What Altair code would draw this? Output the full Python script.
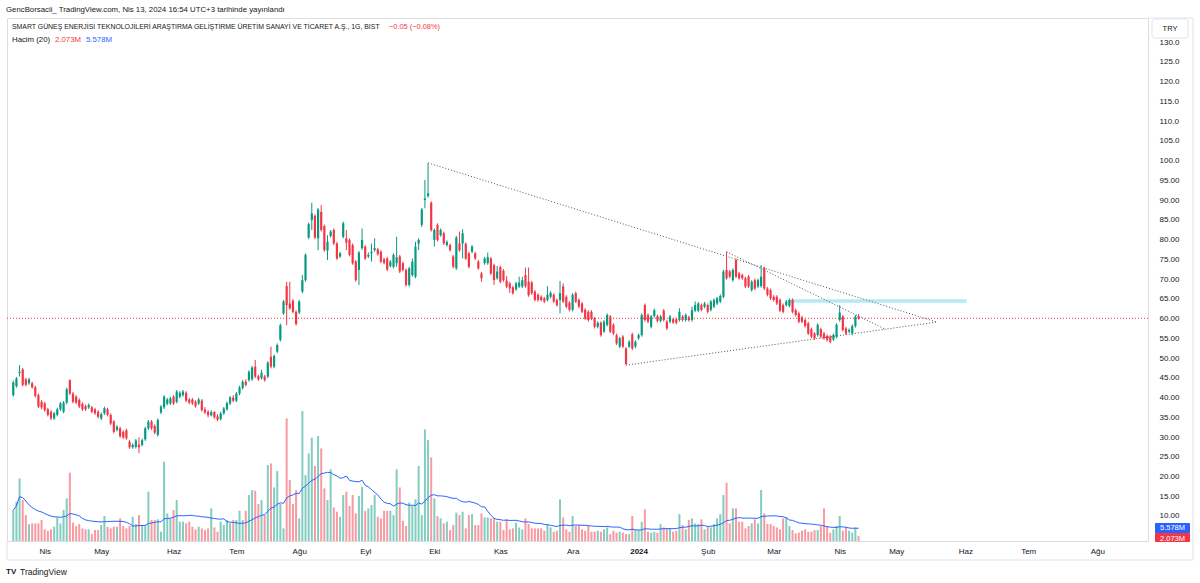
import altair as alt
import pandas as pd

# ---------------- data (daily candles, index = trading bar) ----------------
O = [40.6,42.9,46.2,47.1,44.6,43.6,43.6,42.6,40.6,38.9,38.5,37.0,36.4,34.7,35.6,37.0,36.4,38.7,44.4,41.0,
     40.2,39.4,38.4,37.8,37.5,37.5,37.0,36.4,34.7,36.0,37.0,35.6,33.9,31.8,32.2,31.3,31.7,28.8,27.4,27.5,
     28.1,28.0,29.4,32.2,33.9,32.8,30.5,36.2,37.5,38.4,38.5,40.2,38.9,40.2,40.6,41.2,39.5,39.5,38.9,38.5,
     39.2,37.0,36.4,35.5,36.3,35.2,34.5,36.0,37.0,38.5,40.0,39.2,41.0,42.4,44.0,44.4,44.6,47.8,45.4,44.9,
     45.3,45.3,50.3,47.8,51.6,54.6,61.3,68.2,63.8,64.5,61.7,61.5,66.8,69.7,80.5,84.9,86.0,80.3,87.0,83.4,
     77.2,80.9,82.4,79.0,75.7,80.7,80.3,79.9,78.6,74.4,72.3,77.8,78.2,75.7,76.5,77.3,77.5,76.9,75.0,75.2,
     73.3,73.1,74.0,75.7,74.0,72.3,68.5,71.0,70.6,79.0,83.7,90.0,91.0,89.3,79.9,83.7,81.1,81.6,78.6,78.6,
     75.7,72.7,79.0,79.0,78.9,76.5,76.9,76.5,74.4,71.4,74.0,74.0,75.2,73.5,70.2,73.0,72.1,69.6,68.9,67.9,
     67.4,68.1,68.1,71.0,69.3,69.1,66.8,66.0,65.5,65.1,64.7,65.5,66.0,64.7,64.7,68.1,65.5,64.0,62.2,66.4,
     64.7,63.8,62.2,61.7,61.7,60.0,57.9,58.9,56.7,58.4,60.5,58.4,55.8,52.9,55.4,52.4,52.9,56.0,52.9,55.0,
     55.8,63.4,60.9,57.9,60.6,60.6,59.4,62.0,59.2,59.2,59.8,59.8,59.6,60.5,59.6,60.3,59.6,62.0,62.0,63.4,
     63.0,63.4,62.2,63.0,63.8,64.3,65.5,72.3,71.9,69.7,74.8,71.4,71.0,70.2,70.6,67.2,69.7,68.1,68.2,72.7,
     67.6,67.2,65.5,65.5,64.7,63.4,63.4,63.2,64.7,62.1,61.3,60.3,59.6,58.8,57.3,56.2,55.8,57.3,56.2,55.6,
     55.4,54.7,55.4,59.6,60.5,57.5,56.7,56.2,58.1,60.5]
H = [44.3,45.2,48.2,47.5,45.0,45.0,44.0,43.0,41.0,39.4,38.9,37.4,36.8,36.4,37.4,38.9,39.1,42.5,44.6,41.4,
     40.6,39.8,38.8,38.2,38.5,37.9,37.4,36.8,36.2,37.7,37.4,36.0,34.3,33.0,32.6,31.7,32.1,29.2,28.4,29.5,
     29.9,29.6,32.6,34.3,34.3,33.2,34.7,38.1,40.6,39.9,40.2,40.6,41.9,41.6,41.9,41.6,39.9,39.9,39.3,39.9,
     39.6,37.6,36.8,36.8,36.6,35.8,36.4,37.6,39.0,40.4,40.6,41.4,43.0,44.4,44.6,46.9,48.0,49.5,45.8,47.0,
     45.7,49.2,52.9,50.9,53.7,58.7,64.7,69.3,69.3,64.9,62.1,64.7,71.0,76.5,84.3,89.3,86.4,88.0,88.7,83.8,
     81.1,82.4,82.8,79.4,76.9,84.5,82.4,80.3,79.0,74.8,77.1,82.8,78.6,76.7,79.0,80.3,77.9,77.3,75.4,75.6,
     74.8,76.5,80.7,76.1,74.4,72.7,73.1,75.2,79.4,80.3,88.0,95.1,99.4,89.7,82.8,84.1,82.8,82.0,79.8,79.0,
     76.1,80.9,82.0,82.6,79.3,76.9,78.6,76.9,74.8,71.8,75.6,76.7,75.6,73.9,73.3,73.4,72.5,70.8,69.3,68.3,
     69.3,70.6,70.6,72.9,72.9,69.5,67.2,66.4,65.9,65.5,68.2,66.9,66.4,65.1,69.5,68.9,65.9,64.4,66.4,66.8,
     65.1,64.2,62.6,62.1,62.1,60.4,59.3,59.3,59.6,61.3,60.9,58.8,56.2,55.4,55.8,52.8,54.5,56.4,54.5,56.2,
     61.3,63.8,61.3,60.9,62.5,61.0,60.9,62.4,59.6,60.9,60.2,60.2,62.6,60.9,61.3,60.7,63.0,64.3,64.2,63.8,
     64.2,63.8,64.7,65.1,65.5,66.1,72.3,76.9,72.3,72.7,75.2,71.8,71.4,70.6,71.0,69.7,70.1,70.1,73.5,73.1,
     68.0,67.6,65.9,65.9,65.1,63.8,64.7,65.1,65.1,62.5,61.7,60.7,60.0,59.2,57.7,56.6,58.8,57.7,56.6,56.0,
     55.8,56.2,58.8,63.4,60.9,57.9,57.5,58.5,60.9,61.1]
L = [40.2,42.5,45.3,42.8,42.8,43.2,42.2,40.0,37.3,37.0,36.4,35.2,34.3,34.3,35.2,36.6,36.0,38.3,40.6,38.5,
     38.3,37.3,36.6,36.6,37.1,36.0,35.6,34.7,34.3,35.6,35.2,33.0,30.9,31.4,29.8,29.5,29.3,27.0,27.0,27.1,
     25.9,27.6,29.0,31.8,31.8,30.7,30.1,35.8,37.1,38.0,38.1,38.1,38.5,39.8,40.2,38.8,38.3,38.1,37.4,38.1,
     36.4,35.8,35.0,35.2,34.6,34.0,34.2,35.6,36.6,38.1,38.8,38.8,40.6,42.0,42.8,44.0,44.2,44.9,44.2,44.5,
     44.0,44.9,47.4,47.4,51.2,54.2,60.9,58.3,62.2,61.3,58.2,61.1,66.4,69.3,80.1,82.4,80.1,77.3,82.0,76.9,
     74.8,80.5,78.6,74.8,75.3,80.3,77.3,75.7,73.6,69.3,68.5,77.4,74.8,75.3,74.4,76.9,75.9,74.0,73.7,72.0,
     72.9,72.7,73.1,71.5,71.9,68.1,68.1,70.6,70.2,77.3,83.2,87.9,90.6,82.0,78.2,79.5,80.7,78.6,78.2,76.9,
     72.7,72.3,76.9,75.2,74.8,72.7,76.5,74.8,72.3,69.3,73.6,73.6,71.0,68.5,69.8,68.9,69.3,67.7,66.5,66.0,
     67.0,67.7,67.7,67.8,65.5,66.0,64.3,64.3,64.3,63.9,64.3,65.1,63.9,63.0,61.3,63.9,62.6,61.8,61.8,63.9,
     62.6,61.3,59.6,59.2,59.6,57.5,57.5,55.4,56.3,58.0,56.3,55.8,53.3,52.5,52.5,48.2,52.5,52.0,52.5,54.6,
     55.4,59.2,58.8,57.5,60.2,59.0,59.0,59.2,57.1,58.8,58.6,58.5,59.2,59.2,59.2,59.2,59.2,61.6,61.6,61.8,
     62.6,61.3,61.8,62.6,63.4,63.9,65.1,69.8,70.2,69.3,70.2,69.8,69.8,67.7,67.7,66.8,67.2,67.7,67.8,67.2,
     65.6,64.7,64.3,63.4,61.6,61.3,63.0,62.8,61.3,60.5,58.8,58.8,57.7,55.8,55.0,54.6,55.4,55.0,54.6,54.1,
     53.7,54.3,55.0,59.2,56.7,55.8,56.3,55.8,57.7,59.7]
C = [43.8,44.8,46.5,43.2,43.2,44.6,42.6,40.4,37.7,37.5,36.8,35.6,34.7,36.0,37.0,38.5,38.7,42.1,41.0,38.9,
     38.7,37.7,37.0,37.0,38.1,36.4,36.0,35.1,35.8,37.3,35.6,33.4,31.3,32.6,30.2,29.9,29.7,27.4,28.0,29.1,
     27.4,29.2,32.2,33.9,32.2,31.1,34.3,37.7,40.2,39.5,39.8,38.5,41.5,41.2,41.5,39.2,38.7,38.5,37.8,39.5,
     36.8,36.2,35.5,36.3,35.0,34.4,36.0,37.2,38.6,40.0,39.2,41.0,42.5,44.0,43.2,46.5,47.6,45.3,44.6,46.3,
     44.4,48.8,47.8,50.5,53.3,58.3,64.3,63.4,62.6,61.7,58.6,64.3,69.7,76.1,83.9,86.6,80.5,87.6,82.4,77.3,
     79.4,82.0,79.0,75.2,76.5,84.1,79.2,76.1,74.0,69.7,76.7,79.9,75.2,76.1,76.9,77.8,76.3,74.4,74.1,72.4,
     74.4,76.1,75.5,71.9,72.3,68.5,72.7,74.4,78.2,79.9,87.6,90.4,91.7,82.4,82.4,79.9,82.4,79.0,79.4,77.3,
     73.1,80.5,77.3,81.6,75.2,73.1,78.2,75.2,72.7,70.2,75.2,75.5,71.4,69.7,71.9,69.3,69.7,68.1,67.6,66.4,
     68.9,69.1,69.7,68.2,65.9,66.4,64.7,64.7,64.7,64.3,66.0,66.5,64.3,63.4,66.4,64.3,63.0,62.2,66.0,64.3,
     63.0,61.7,60.0,59.6,60.0,57.9,58.9,55.8,59.2,60.9,56.7,56.2,53.7,55.0,52.9,48.5,54.1,52.4,54.1,55.8,
     60.9,59.6,59.2,60.5,62.1,59.4,60.5,59.6,57.5,60.5,59.0,58.9,61.7,59.6,60.9,59.6,62.1,63.4,63.8,62.2,
     63.8,61.7,64.3,64.7,65.1,65.7,71.9,70.2,70.6,72.3,70.6,70.2,70.2,68.1,68.1,69.3,67.6,69.7,70.6,67.6,
     66.0,65.1,64.7,63.8,62.0,61.7,64.3,64.7,61.7,60.9,59.2,59.2,58.1,56.2,55.4,55.0,58.4,55.4,55.0,54.6,
     54.1,55.8,58.4,61.5,57.1,56.2,57.1,58.1,60.5,60.05]
V = [13.0,16.5,26.3,17.2,10.9,7.1,7.4,7.4,7.4,8.8,4.9,4.3,4.9,6.0,9.9,7.4,13.0,17.9,28.7,7.7,
     6.3,7.1,5.3,4.9,4.9,2.9,4.6,4.6,6.7,10.5,6.0,5.3,6.0,6.0,9.5,6.3,5.3,6.3,10.2,7.1,
     10.9,6.7,6.7,20.7,8.8,8.8,9.1,3.9,33.3,11.6,9.5,13.0,17.2,8.1,8.1,7.4,8.1,6.0,4.9,6.0,
     5.3,4.6,5.3,13.7,5.7,3.9,8.1,6.7,8.8,7.4,8.8,8.8,12.7,8.8,12.7,19.3,21.4,21.1,15.5,17.2,
     10.9,31.9,32.6,22.5,29.4,15.5,5.3,51.5,25.6,15.5,21.4,9.5,54.6,27.7,36.8,43.4,31.5,44.1,38.9,22.1,
     17.2,30.1,14.1,12.3,10.2,19.3,20.7,14.7,19.3,11.6,18.9,22.8,12.7,13.7,15.1,19.3,10.2,9.5,12.7,12.7,
     12.7,10.9,30.1,22.5,8.5,6.3,16.1,14.7,17.5,31.5,10.9,46.9,42.4,35.1,17.9,10.5,9.5,7.4,8.1,4.6,
     6.7,11.9,10.9,12.3,5.3,10.9,11.3,6.7,6.7,11.6,9.9,9.9,9.5,9.5,8.1,8.1,4.6,9.1,4.9,5.3,
     7.7,5.7,4.9,9.5,7.1,5.3,5.3,5.3,5.3,4.3,7.1,5.7,3.9,4.3,17.5,9.9,4.9,3.9,10.5,6.3,
     6.7,4.9,4.3,6.3,3.9,3.9,4.3,3.9,4.9,5.7,2.9,4.3,3.5,3.9,3.5,2.9,2.9,10.5,4.6,4.6,
     8.1,13.3,3.9,3.5,3.9,3.5,7.1,5.7,5.3,5.3,3.9,4.3,11.3,6.7,4.9,8.8,9.5,7.4,7.1,9.1,
     4.9,6.0,5.7,7.1,9.5,11.3,19.3,24.5,7.4,13.7,13.7,8.1,8.1,5.3,6.3,7.4,9.1,7.4,21.4,11.6,
     7.1,7.1,6.3,5.7,4.9,9.5,9.9,6.3,4.6,3.2,3.5,4.3,4.9,3.9,3.9,4.6,4.6,6.3,13.7,6.0,
     3.5,4.9,6.3,10.5,4.3,5.7,4.3,3.5,5.7,2.073]

month_pos = [10, 28, 51, 71, 91, 112, 134, 155, 178, 199, 221, 242, 263, 281, 303, 323, 345]
month_lab = ["Nis", "May", "Haz", "Tem", "Ağu", "Eyl", "Eki", "Kas", "Ara", "2024",
             "Şub", "Mar", "Nis", "May", "Haz", "Tem", "Ağu"]
price_ticks = list(range(10, 135, 5))

# drawings (bar index, price)
trend_i0 = [132, 227, 195]
trend_p0 = [99.4, 76.9, 48.2]
trend_i1 = [293.9, 277.5, 293.9]
trend_p1 = [59.1, 57.3, 59.1]
zone_i = [247, 303.4]
zone_p = [64.0, 64.9]
last_close = 60.05

# ---------------- styling ----------------
GREEN = "#089981"
RED = "#F23645"
BLUE = "#2962FF"
FONT = "Liberation Sans"
TXT = "#131722"
GRID = "#e0e3eb"

df = pd.DataFrame({"i": list(range(len(C))), "o": O, "h": H, "l": L, "c": C, "v": V})

xdom = [-0.41, 359.53]
PRICE_DOM = [3.67, 136.08]
VOL_DOM = [0, 219.7]

xs = alt.Scale(domain=xdom, nice=False, zero=False)
ps = alt.Scale(domain=PRICE_DOM, nice=False, zero=False)
vs = alt.Scale(domain=VOL_DOM, nice=False, zero=True)

up = alt.datum.c >= alt.datum.o
col = alt.condition(up, alt.value(GREEN), alt.value(RED))

lab_expr = "[" + ",".join("'%s'" % m for m in month_lab) + "][indexof([" + \
    ",".join(str(p) for p in month_pos) + "], datum.value)]"

x_axis = alt.Axis(values=month_pos, labelExpr=lab_expr, title=None, ticks=False, grid=False,
                  domain=False, labelFontSize=8, labelColor=TXT, labelPadding=6, labelFont=FONT,
                  labelFlush=False, labelOverlap=False,
                  labelFontWeight={"condition": {"test": "datum.value == 199", "value": "bold"},
                                   "value": "normal"})
y_axis = alt.Axis(orient="right", values=price_ticks, title=None, ticks=False, grid=False,
                  domain=False, labelFontSize=8, labelColor=TXT, labelPadding=11, labelAlign="left",
                  labelFont=FONT, labelFlush=False, labelOverlap=False,
                  labelExpr="datum.value >= 100 ? format(datum.value, '.1f') : format(datum.value, '.2f')")

def X(field):
    return alt.X(field, type="quantitative", scale=xs, axis=x_axis)

base = alt.Chart(df)

# volume
vol = base.mark_bar(width=2, opacity=0.5).encode(
    x=X("i"),
    y=alt.Y("v:Q", scale=vs, axis=None),
    y2=alt.datum(0),
    color=col,
)
vol_ma = base.transform_window(ma="mean(v)", frame=[-19, 0], sort=[alt.SortField("i")]).mark_line(
    color=BLUE, strokeWidth=1).encode(
    x=X("i"),
    y=alt.Y("ma:Q", scale=vs, axis=None),
)

# zone
zone_df = pd.DataFrame({"i": [zone_i[0]], "b": [zone_i[1]], "p0": [zone_p[0]], "p1": [zone_p[1]]})
zone = alt.Chart(zone_df).mark_rect(color="#b2ebf2").encode(
    x=X("i"), x2="b:Q",
    y=alt.Y("p0:Q", scale=ps, axis=None), y2="p1:Q")

# last price line
pl = alt.Chart(pd.DataFrame({"p": [last_close]})).mark_rule(
    color=RED, strokeDash=[1, 2], strokeWidth=1).encode(y=alt.Y("p:Q", scale=ps, axis=None))

# trend lines
tl_df = pd.DataFrame({"i": trend_i0, "pa": trend_p0, "b": trend_i1, "pb": trend_p1})
tl = alt.Chart(tl_df).mark_rule(color="#50535e", strokeDash=[1, 2], strokeWidth=1).encode(
    x=X("i"), x2="b:Q",
    y=alt.Y("pa:Q", scale=ps, axis=None), y2="pb:Q")

# candles
wick = base.mark_rule(strokeWidth=1).encode(
    x=X("i"),
    y=alt.Y("l:Q", scale=ps, axis=y_axis), y2="h:Q", color=col)
body = base.mark_bar(width=2.2).encode(
    x=X("i"),
    y=alt.Y("o:Q", scale=ps, axis=None), y2="c:Q", color=col)

# ---------------- texts / decorations (pixel positions relative to plot) ----------------
def txt(s, x, y, color=TXT, size=7.5, weight="normal", align="left"):
    return alt.Chart(pd.DataFrame({"t": [s]})).mark_text(
        align=align, baseline="middle", font=FONT, fontSize=size, color=color, fontWeight=weight
    ).encode(x=alt.value(x), y=alt.value(y), text="t:N")

def box(x0, x1, y0, y1, fill, stroke=None, r=0):
    kw = dict(fill=fill, cornerRadius=r)
    if stroke:
        kw.update(stroke=stroke, strokeWidth=1)
    return alt.Chart(pd.DataFrame({"k": [0]})).mark_rect(**kw).encode(
        x=alt.value(x0), x2=alt.value(x1), y=alt.value(y0), y2=alt.value(y1))

def hline(x0, x1, y):
    return alt.Chart(pd.DataFrame({"k": [0]})).mark_rule(color=GRID, strokeWidth=1).encode(
        x=alt.value(x0), x2=alt.value(x1), y=alt.value(y))

def vline(x, y0, y1):
    return alt.Chart(pd.DataFrame({"k": [0]})).mark_rule(color=GRID, strokeWidth=1).encode(
        x=alt.value(x), y=alt.value(y0), y2=alt.value(y1))

texts = [
    txt("GencBorsacii_ TradingView.com, Nis 13, 2024 16:54 UTC+3 tarihinde yayınlandı", -1, -8,
        color="#131722", size=7.8),
    txt("SMART GÜNEŞ ENERJİSİ TEKNOLOJİLERİ ARAŞTIRMA GELİŞTİRME ÜRETİM SANAYİ VE TİCARET A.Ş., 1G, BIST",
        5, 9, size=6.9),
    txt("−0.05 (−0.08%)", 382, 9, color=RED, size=7.4),
    txt("Hacim (20)", 5, 22, size=7.8),
    txt("2.073M", 48, 22, color=RED, size=7.8),
    txt("5.578M", 79, 22, color=BLUE, size=7.8),
    txt("TV", -1, 554, size=8, weight="bold"),
    txt("TradingView", 13, 554, color="#131722", size=8.5),
    box(1145, 1181, 1, 20, "white", GRID, 3),
    txt("TRY", 1163, 10.5, size=7.5, align="center"),
    box(1148, 1183, 505, 515, BLUE, None, 1),
    txt("5.578M", 1165.5, 510, color="white", size=7.5, align="center"),
    box(1148, 1183, 515, 524, RED, None, 1),
    txt("2.073M", 1165.5, 520.5, color="white", size=7.5, align="center"),
    hline(0, 1186, 542),
    vline(1186, 0, 542),
    hline(1141, 1186, 0),
    vline(0, 523, 542),
]

chart = alt.layer(zone, pl, vol, vol_ma, tl, wick, body, *texts).resolve_scale(
    y="independent"
).properties(
    width=1141, height=523,
    padding={"left": 7, "top": 18, "right": 52, "bottom": 42},
    autosize=alt.AutoSizeParams(type="none"),
).configure_view(stroke=GRID, strokeWidth=1).configure(background="white")

chart.save("out.html", embed_options={"renderer": "svg", "actions": False})
